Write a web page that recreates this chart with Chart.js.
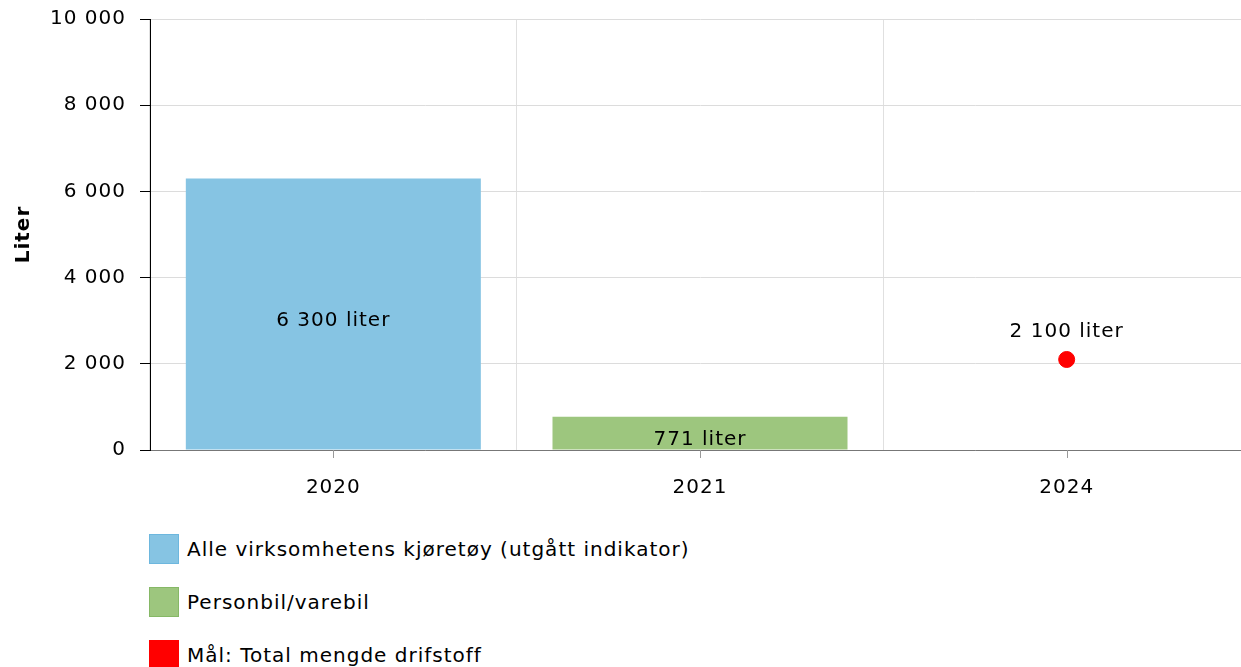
<!DOCTYPE html>
<html>
<head>
<meta charset="utf-8">
<script src="https://cdn.jsdelivr.net/npm/chart.js@4.4.1/dist/chart.umd.min.js"></script>
<style>
  html, body { margin: 0; padding: 0; background: #fff; overflow: hidden; }
  #wrap { position: relative; width: 1259px; height: 522px; margin-top: -7px; }
  #legend { margin: 19px 0 0 149px; font-family: "DejaVu Sans", sans-serif; font-size: 20px; letter-spacing: 1px; color: #000; }
  .item { display: flex; align-items: center; height: 30px; margin-bottom: 23px; }
  .box { width: 28px; height: 28px; border: 1px solid; margin-right: 8px; }
</style>
</head>
<body>
<div id="wrap"><canvas id="chart"></canvas></div>
<div id="legend"></div>
<script>
const years = ["2020", "2021", "2024"];
const allVehicles = [6300, null, null];
const carsVans = [null, 771, null];
const target = [null, null, 2100];
const yTicks = [0, 2000, 4000, 6000, 8000, 10000];

const fmt = (v) => String(v).replace(/\B(?=(\d{3})+(?!\d))/g, " ");

// wider glyphs, closer to the Verdana look of the original
const spacing = {
  id: "spacing",
  beforeLayout(chart) { chart.ctx.letterSpacing = "1px"; },
  beforeDraw(chart) { chart.ctx.letterSpacing = "1px"; },
};

const valueLabels = {
  id: "valueLabels",
  afterDatasetsDraw(chart) {
    const ctx = chart.ctx;
    ctx.save();
    ctx.font = "20px 'DejaVu Sans'";
    ctx.fillStyle = "#000";
    ctx.textAlign = "center";
    ctx.textBaseline = "middle";
    chart.data.datasets.forEach((ds, i) => {
      const meta = chart.getDatasetMeta(i);
      meta.data.forEach((el, j) => {
        const v = ds.data[j];
        if (v == null) return;
        if (ds.type === "line") {
          ctx.fillText(`${fmt(v)} liter`, el.x, el.y - 28);
        } else {
          ctx.fillText(`${fmt(v)} liter`, el.x, (el.y + el.base) / 2 + 7);
        }
      });
    });
    // x tick marks at category centres
    const x = chart.scales.x;
    ctx.strokeStyle = "#999";
    ctx.lineWidth = 1;
    years.forEach((_, i) => {
      const px = Math.round(x.getPixelForValue(i)) + 0.5;
      ctx.beginPath();
      ctx.moveTo(px, x.top);
      ctx.lineTo(px, x.top + 8);
      ctx.stroke();
    });
    ctx.restore();
  },
};

const chart = new Chart(document.getElementById("chart"), {
  data: {
    labels: years,
    datasets: [
      {
        type: "bar",
        label: "Alle virksomhetens kjøretøy (utgått indikator)",
        data: allVehicles,
        backgroundColor: "#86c4e3",
        borderColor: "#6db7de",
        borderWidth: 0,
      },
      {
        type: "bar",
        label: "Personbil/varebil",
        data: carsVans,
        backgroundColor: "#9dc67e",
        borderColor: "#86b866",
        borderWidth: 0,
      },
      {
        type: "line",
        label: "Mål: Total mengde drifstoff",
        data: target,
        showLine: false,
        pointRadius: 8,
        pointBackgroundColor: "#ff0000",
        pointBorderColor: "#ff0000",
        backgroundColor: "#ff0000",
        borderColor: "#ff0000",
      },
    ],
  },
  options: {
    responsive: true,
    maintainAspectRatio: false,
    animation: false,
    layout: { padding: { top: 3, right: 1, left: 0, bottom: 0 } },
    datasets: {
      bar: { grouped: false, categoryPercentage: 0.9, barPercentage: 0.894 },
    },
    plugins: {
      legend: { display: false },
      tooltip: { enabled: false },
    },
    scales: {
      x: {
        grid: { offset: true, color: "#e0e0e0", drawTicks: false },
        border: { color: "#777" },
        ticks: {
          color: "#000",
          padding: 26,
          font: { family: "DejaVu Sans", size: 20 },
        },
        afterFit: (scale) => { scale.height = 65; },
      },
      y: {
        min: 0,
        max: 10000,
        afterBuildTicks: (scale) => { scale.ticks = yTicks.map((v) => ({ value: v })); },
        grid: { color: "#dcdcdc", tickColor: "#000", tickLength: 10 },
        border: { color: "#000" },
        ticks: {
          color: "#000",
          padding: 14,
          font: { family: "DejaVu Sans", size: 20 },
          callback: (v) => fmt(v),
        },
        title: {
          display: true,
          text: "Liter",
          color: "#000",
          padding: { top: 12, bottom: 0 },
          font: { family: "DejaVu Sans", size: 20, weight: "bold" },
        },
        afterFit: (scale) => { scale.width = 150; },
      },
    },
  },
  plugins: [spacing, valueLabels],
});

// legend below the chart, one entry per line
const legend = document.getElementById("legend");
chart.data.datasets.forEach((ds) => {
  const item = document.createElement("div");
  item.className = "item";
  const box = document.createElement("span");
  box.className = "box";
  box.style.background = ds.type === "line" ? ds.pointBackgroundColor : ds.backgroundColor;
  box.style.borderColor = ds.borderColor;
  const label = document.createElement("span");
  label.textContent = ds.label;
  item.appendChild(box);
  item.appendChild(label);
  legend.appendChild(item);
});
</script>
</body>
</html>
